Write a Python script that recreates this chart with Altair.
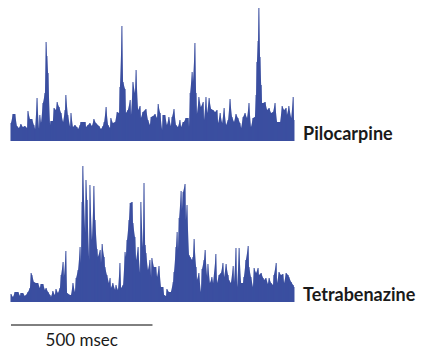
import altair as alt
import pandas as pd

# ---- data (time in msec, amplitude in arbitrary units) ----
pilo_t = [0, 7, 14, 21, 28, 35, 42, 49, 57, 60, 67, 74, 81, 85, 92, 99, 102, 106, 113, 120,
          124, 127, 131, 138, 141, 148, 152, 159, 163, 170, 177, 184, 191, 194, 201, 209, 212, 219, 226, 233,
          237, 244, 247, 254, 262, 265, 272, 279, 286, 293, 300, 311, 318, 325, 329, 336, 343, 350, 353, 360,
          368, 375, 382, 385, 392, 396, 403, 406, 413, 421, 424, 431, 438, 442, 449, 456, 459, 466, 474, 477,
          484, 491, 495, 502, 509, 516, 520, 527, 534, 537, 544, 551, 558, 565, 569, 576, 583, 590, 597, 601,
          608, 611, 618, 626, 629, 633, 640, 643, 650, 654, 657, 664, 671, 679, 682, 689, 693, 700, 707, 714,
          721, 728, 732, 739, 746, 753, 760, 767, 774, 781, 788, 795, 802, 809, 813, 820, 827, 834, 841, 848,
          855, 862, 866, 869, 873, 876, 880, 884, 887, 891, 898, 905, 912, 919, 926, 933, 940, 944, 951, 958,
          965, 972, 975, 982, 990, 997, 1000]
pilo_a = [18, 27, 27, 15, 13, 17, 14, 15, 13, 30, 22, 22, 16, 12, 43, 12, 26, 18, 38, 48,
          99, 85, 68, 16, 20, 20, 33, 31, 39, 34, 28, 19, 31, 46, 26, 14, 28, 14, 16, 14,
          12, 16, 19, 19, 19, 14, 16, 18, 15, 22, 18, 15, 12, 15, 19, 34, 16, 13, 23, 18,
          19, 29, 28, 54, 115, 59, 52, 28, 31, 41, 26, 59, 48, 71, 31, 35, 23, 29, 31, 32,
          21, 16, 24, 25, 27, 23, 37, 28, 11, 26, 26, 16, 24, 15, 24, 32, 16, 14, 21, 14,
          19, 19, 23, 23, 14, 48, 69, 59, 98, 48, 27, 44, 34, 39, 21, 44, 28, 43, 32, 31,
          29, 31, 18, 28, 18, 33, 16, 21, 42, 24, 19, 27, 23, 18, 13, 24, 28, 23, 38, 14,
          23, 24, 46, 79, 100, 134, 84, 56, 38, 38, 39, 31, 33, 28, 29, 38, 19, 19, 19, 35,
          31, 33, 26, 35, 23, 44, 21]

tetra_t = [0, 7, 14, 21, 25, 32, 35, 42, 49, 53, 60, 67, 71, 74, 81, 88, 95, 102, 106, 113,
           120, 124, 131, 138, 141, 148, 155, 159, 166, 173, 177, 184, 187, 194, 198, 209, 212, 219, 226, 230,
           237, 244, 247, 251, 254, 262, 265, 269, 276, 279, 286, 293, 297, 304, 307, 315, 318, 322, 329, 332,
           339, 346, 350, 353, 360, 368, 371, 378, 385, 389, 396, 403, 406, 410, 417, 421, 428, 431, 438, 442,
           449, 456, 459, 466, 470, 474, 477, 484, 491, 495, 498, 505, 512, 516, 523, 530, 537, 541, 548, 551,
           558, 565, 573, 576, 583, 587, 590, 594, 601, 604, 608, 615, 618, 622, 629, 633, 640, 643, 647, 654,
           657, 664, 671, 675, 682, 686, 693, 696, 703, 710, 714, 724, 728, 735, 742, 749, 753, 760, 767, 770,
           777, 785, 788, 795, 799, 806, 813, 820, 823, 830, 838, 841, 848, 855, 859, 866, 873, 876, 884, 891,
           894, 901, 908, 912, 919, 926, 929, 937, 940, 947, 954, 961, 965, 972, 979, 982, 990, 997, 1000]
tetra_a = [8, 5, 10, 10, 10, 6, 9, 9, 6, 7, 10, 14, 29, 27, 20, 19, 19, 14, 18, 18,
           12, 14, 10, 7, 5, 11, 7, 13, 9, 14, 27, 40, 25, 51, 9, 7, 7, 19, 10, 24,
           32, 55, 39, 100, 136, 69, 122, 102, 42, 117, 62, 116, 82, 53, 45, 52, 39, 58, 45, 35,
           27, 19, 24, 14, 19, 12, 17, 12, 39, 14, 17, 50, 45, 62, 82, 99, 100, 79, 65, 42,
           55, 29, 100, 55, 119, 57, 49, 32, 42, 25, 44, 35, 35, 25, 36, 15, 15, 7, 6, 13,
           10, 10, 20, 30, 55, 70, 52, 84, 111, 92, 110, 118, 82, 97, 47, 45, 42, 45, 63, 35,
           22, 29, 10, 33, 42, 52, 25, 38, 19, 25, 19, 48, 19, 27, 29, 39, 25, 38, 27, 22,
           19, 36, 20, 54, 15, 54, 19, 19, 25, 42, 56, 35, 25, 15, 34, 29, 34, 27, 29, 24,
           22, 24, 18, 24, 19, 17, 27, 39, 19, 30, 27, 28, 19, 29, 27, 25, 20, 17, 15]

drugs = ["Pilocarpine", "Tetrabenazine"]
scale_bar_ms = 500
scale_label = "500 msec"

# ---- layout constants ----
BLUE = "#3B4FA0"
baseline = {"Pilocarpine": 208, "Tetrabenazine": 47}
label_x = 1032
W, H = 412, 341

rows = []
for name, ts, amps in [("Pilocarpine", pilo_t, pilo_a), ("Tetrabenazine", tetra_t, tetra_a)]:
    for t, a in zip(ts, amps):
        rows.append({"drug": name, "t": t, "y0": baseline[name], "y1": baseline[name] + a})
df = pd.DataFrame(rows)

xs = alt.Scale(domain=[-10.6, (W - 3) / 0.283], nice=False, zero=False)
ys = alt.Scale(domain=[0, H], nice=False, zero=False)

traces = alt.Chart(df).mark_area(color=BLUE, interpolate="linear", opacity=1).encode(
    x=alt.X("t:Q", scale=xs, axis=None),
    y=alt.Y("y1:Q", scale=ys, axis=None),
    y2="y0:Q",
    detail="drug:N",
)
spikes = alt.Chart(df).mark_rule(color=BLUE, strokeWidth=1, strokeCap="butt").encode(
    x=alt.X("t:Q", scale=xs),
    y=alt.Y("y0:Q", scale=ys),
    y2="y1:Q",
)

lab_df = pd.DataFrame({"drug": drugs, "x": [label_x, label_x],
                       "y": [baseline[d] + 1 for d in drugs]})
labels = alt.Chart(lab_df).mark_text(
    align="left", baseline="alphabetic", font="Lato", fontWeight="bold",
    fontSize=18, color="#1a1a1a"
).encode(x=alt.X("x:Q", scale=xs), y=alt.Y("y:Q", scale=ys), text="drug:N")

bar_df = pd.DataFrame({"x": [0], "x2": [scale_bar_ms], "y": [24]})
bar = alt.Chart(bar_df).mark_rule(color="black", strokeWidth=1).encode(
    x=alt.X("x:Q", scale=xs), x2="x2:Q", y=alt.Y("y:Q", scale=ys))

txt_df = pd.DataFrame({"x": [scale_bar_ms / 2], "y": [3], "label": [scale_label]})
bar_txt = alt.Chart(txt_df).mark_text(
    align="center", baseline="alphabetic", font="Lato", fontSize=17, color="#1a1a1a"
).encode(x=alt.X("x:Q", scale=xs), y=alt.Y("y:Q", scale=ys), text="label:N")

chart = alt.layer(traces, spikes, labels, bar, bar_txt).properties(
    width=W, height=H, padding=0,
    autosize=alt.AutoSizeParams(type="none"),
).configure_view(stroke=None)

chart.save("out.html", embed_options={"renderer": "svg", "actions": False})
